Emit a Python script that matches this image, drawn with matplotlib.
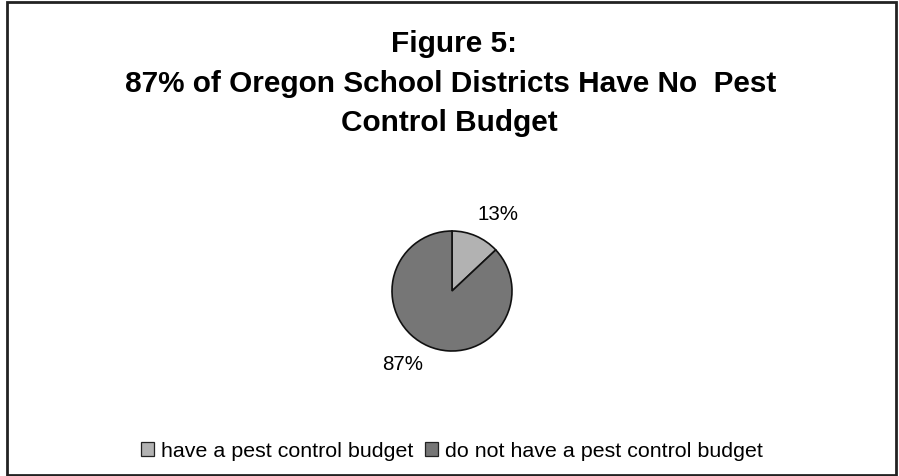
import matplotlib
matplotlib.use("Agg")
import matplotlib.pyplot as plt
from matplotlib.patches import Rectangle, Patch

labels = ["have a pest control budget", "do not have a pest control budget"]
values = [13, 87]
pct_labels = ["13%", "87%"]
colors = ["#b2b2b2", "#767676"]

plt.rcParams['font.family'] = ['Liberation Sans', 'DejaVu Sans']

W, H = 899, 477
fig = plt.figure(figsize=(W / 100, H / 100), dpi=100)
fig.patch.set_facecolor("white")

# outer frame
fig.patches.append(Rectangle((7 / W, 1 / H), 889 / W, 473 / H, transform=fig.transFigure,
                             fill=False, edgecolor="#222222", linewidth=2.0))

fs_title = 21.4
fig.text(454 / W, 1 - 52 / H, "Figure 5:", ha="center", va="baseline",
         fontsize=fs_title, fontweight="bold")
fig.text(451 / W, 1 - 92 / H, "87% of Oregon School Districts Have No  Pest", ha="center",
         va="baseline", fontsize=fs_title, fontweight="bold")
fig.text(449 / W, 1 - 131 / H, "Control Budget", ha="center", va="baseline",
         fontsize=fs_title, fontweight="bold")

cx, cy, r = 452, 292, 60
ax = fig.add_axes([(cx - r) / W, 1 - (cy + r) / H, 2 * r / W, 2 * r / H])
wedges, _ = ax.pie(values, colors=colors, startangle=90, counterclock=False,
                   wedgeprops=dict(edgecolor="#111111", linewidth=1.2))
ax.set_aspect("equal")
ax.set_xlim(-1, 1)
ax.set_ylim(-1, 1)
ax.axis("off")

fig.text(498 / W, 1 - 214 / H, pct_labels[0], ha="center", va="center", fontsize=14.8)
fig.text(403 / W, 1 - 365 / H, pct_labels[1], ha="center", va="center", fontsize=14.8)

handles = [Patch(facecolor=c, edgecolor="#222222", linewidth=0.9) for c in colors]
fig.legend(handles, labels, loc="center", bbox_to_anchor=(452 / W, 1 - 452 / H),
           ncol=2, frameon=False, fontsize=15.4, handlelength=0.6, handleheight=0.6,
           handletextpad=0.35, columnspacing=0.55, borderaxespad=0, borderpad=0)

fig.savefig("out.png", dpi=100)
